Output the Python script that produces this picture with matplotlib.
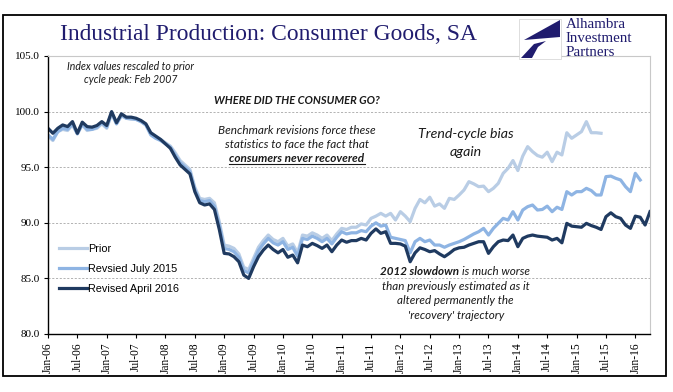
import numpy as np
import matplotlib.pyplot as plt
from matplotlib.patches import Rectangle, Polygon
from matplotlib.lines import Line2D

W, H = 673, 392

# monthly index values, Jan-06 onward
prior = [
    97.8, 97.4, 98.2, 98.4, 98.3, 98.8, 98.0, 98.8, 98.3, 98.4, 98.5, 98.9,
    98.5, 99.8, 98.9, 99.6, 99.4, 99.3, 99.3, 99.1, 98.8, 98.0, 97.7, 97.5,
    97.2, 96.9, 96.3, 95.6, 95.2, 94.8, 93.2, 92.2, 92.1, 92.2, 91.8, 90.1,
    88.0, 87.9, 87.7, 87.2, 86.0, 85.8, 86.8, 87.8, 88.4, 88.9, 88.5, 88.3,
    88.6, 87.9, 88.1, 87.3, 88.9, 88.8, 89.1, 88.9, 88.6, 88.9, 88.4, 89.0,
    89.5, 89.4, 89.6, 89.6, 89.9, 89.8, 90.4, 90.6, 90.85, 90.6, 90.85, 90.25,
    91.0, 90.6, 90.1, 91.3, 92.1, 91.8, 92.3, 91.5, 91.7, 91.3, 92.2, 92.1,
    92.5, 92.95, 93.7, 93.5, 93.25, 93.3, 92.8, 93.1, 93.55, 94.45, 94.9, 95.6,
    94.7, 96.0, 96.85, 96.4, 96.05, 95.9, 96.35, 95.5, 96.35, 96.1, 98.1, 97.6,
    97.9, 98.2, 99.1, 98.1, 98.1, 98.05,
]
rev_jul15 = [
    97.9, 97.5, 98.2, 98.5, 98.4, 98.9, 98.0, 98.9, 98.4, 98.4, 98.6, 99.0,
    98.6, 99.9, 98.9, 99.7, 99.4, 99.4, 99.3, 99.1, 98.8, 97.9, 97.6, 97.4,
    97.1, 96.8, 96.1, 95.4, 95.0, 94.6, 93.0, 92.0, 91.9, 92.0, 91.5, 89.8,
    87.7, 87.6, 87.4, 86.9, 85.7, 85.5, 86.5, 87.5, 88.1, 88.6, 88.2, 88.0,
    88.3, 87.6, 87.8, 87.0, 88.6, 88.5, 88.8, 88.6, 88.3, 88.6, 88.1, 88.7,
    89.2, 89.0, 89.1, 89.1, 89.3, 89.2, 89.7, 90.0, 89.7, 89.8, 88.7, 88.6,
    88.5, 88.4, 87.3, 88.3, 88.6, 88.3, 88.45, 88.0, 88.0, 87.8, 88.0, 88.15,
    88.3, 88.5, 88.75, 89.0, 89.2, 89.5, 88.9, 89.5, 89.95, 90.4, 90.25, 91.0,
    90.25, 91.15, 91.45, 91.6, 91.15, 91.2, 91.5, 91.0, 91.4, 91.2, 92.8, 92.5,
    92.8, 92.8, 93.1, 92.9, 92.5, 92.5, 94.15, 94.2, 94.0, 93.85, 93.25, 92.8,
    94.45, 93.85,
]
rev_apr16 = [
    98.5, 98.05, 98.5, 98.8, 98.65, 99.1, 98.05, 99.05, 98.65, 98.6, 98.75, 99.1,
    98.75, 100.0, 99.0, 99.8, 99.5, 99.5, 99.4, 99.2, 98.9, 98.1, 97.8, 97.5,
    97.1, 96.7, 95.9, 95.2, 94.8, 94.4, 92.8, 91.8, 91.6, 91.7, 91.2, 89.4,
    87.25, 87.2, 86.95, 86.5, 85.3, 85.0, 86.05, 86.95, 87.55, 88.0, 87.6, 87.3,
    87.6, 86.9, 87.1, 86.4, 88.0, 87.85, 88.15, 87.95, 87.7, 88.0, 87.4, 88.0,
    88.45, 88.25, 88.4, 88.4, 88.6, 88.45, 89.05, 89.45, 89.05, 89.2, 88.15, 88.15,
    88.1, 87.9, 86.5, 87.3, 87.75, 87.6, 87.4, 87.5, 87.2, 86.95, 87.25, 87.6,
    87.75, 87.8, 88.0, 88.15, 88.3, 88.3, 87.25, 87.85, 88.3, 88.45, 88.4, 88.9,
    87.85, 88.6, 88.8, 88.9, 88.8, 88.75, 88.7, 88.45, 88.6, 88.2, 89.95, 89.7,
    89.65, 89.6, 89.95, 89.75, 89.6, 89.4, 90.55, 90.9, 90.55, 90.4, 89.8, 89.5,
    90.6, 90.5, 89.8, 91.0,
]

tick_labels = ["Jan-06", "Jul-06", "Jan-07", "Jul-07", "Jan-08", "Jul-08",
               "Jan-09", "Jul-09", "Jan-10", "Jul-10", "Jan-11", "Jul-11",
               "Jan-12", "Jul-12", "Jan-13", "Jul-13", "Jan-14", "Jul-14",
               "Jan-15", "Jul-15", "Jan-16"]
y_ticks = [80, 85, 90, 95, 100, 105]

NAVY = "#201c6e"
C_PRIOR = "#b9cde5"
C_JUL = "#8eb4e3"
C_APR = "#1f3a60"
SERIF = "Liberation Serif"
NOTE = "Lato"


def fx(x):
    return x / W


def fy(y):
    return 1 - y / H


fig = plt.figure(figsize=(W / 100, H / 100), dpi=100)
fig.patch.set_facecolor("white")

# outer frame
fig.add_artist(Rectangle((fx(3), fy(376)), fx(663), (376 - 15) / H,
                         transform=fig.transFigure, fill=False, lw=1.3, ec="black"))

ax = fig.add_axes([fx(48), fy(334), 602 / W, 278 / H])

for vals, col, lab in [(prior, C_PRIOR, "Prior"),
                       (rev_jul15, C_JUL, "Revsied July 2015"),
                       (rev_apr16, C_APR, "Revised April 2016")]:
    ax.plot(np.arange(len(vals)), vals, color=col, lw=2.3, label=lab,
            solid_joinstyle="round")

ax.set_xlim(0, 123)
ax.set_ylim(80, 105)
ax.set_yticks(y_ticks)
ax.set_yticklabels([f"{v:.1f}" for v in y_ticks], fontfamily=SERIF, fontsize=8)
ax.set_xticks(np.arange(len(tick_labels)) * 6)
ax.set_xticklabels(tick_labels, rotation=90, fontfamily=SERIF, fontsize=8.3)
ax.tick_params(axis="both", direction="out", length=3, width=0.8, colors="black", pad=3.2)

for v in [85, 90, 95, 100]:
    ax.axhline(v, color="#a6a6a6", lw=0.6, ls=(0, (2.5, 2)), zorder=0)

for s in ["left", "bottom"]:
    ax.spines[s].set_color("black")
    ax.spines[s].set_linewidth(1.0)
for s in ["top", "right"]:
    ax.spines[s].set_color("#c8c8c8")
    ax.spines[s].set_linewidth(0.8)

leg = ax.legend(loc="upper left", bbox_to_anchor=(fx(59), fy(244)),
                bbox_transform=fig.transFigure, frameon=False,
                prop={"family": "Liberation Sans", "size": 7.8},
                handlelength=2.6, handletextpad=0.12, labelspacing=0.9,
                borderpad=0, borderaxespad=0)

# title
fig.text(fx(269), fy(35), "Industrial Production: Consumer Goods, SA",
         ha="center", va="center", fontfamily=SERIF, fontsize=16.9, color=NAVY)

# logo
fig.add_artist(Rectangle((fx(519), fy(59)), 42 / W, 40 / H, transform=fig.transFigure,
                         fc="white", ec="#d0d0d0", lw=0.5, zorder=5))
fig.add_artist(Polygon([(fx(560), fy(20)), (fx(560), fy(37)), (fx(524), fy(40))],
                       closed=True, transform=fig.transFigure, fc=NAVY, ec="none", zorder=6))
fig.add_artist(Polygon([(fx(521), fy(58)), (fx(534), fy(44)), (fx(546), fy(41)),
                        (fx(538), fy(47)), (fx(532), fy(58))],
                       closed=True, transform=fig.transFigure, fc=NAVY, ec="none", zorder=6))
for i, word in enumerate(["Alhambra", "Investment", "Partners"]):
    fig.text(fx(566), fy(25 + i * 14), word, ha="left", va="center",
             fontfamily=SERIF, fontsize=10.8, color=NAVY, zorder=6)

# notes
note = dict(fontfamily=NOTE, style="italic", color="#1a1a1a", ha="center", va="center")
fig.text(fx(130.5), fy(66.5), "Index values rescaled to prior", fontsize=7.6, **note)
fig.text(fx(130.5), fy(79.5), "cycle peak: Feb 2007", fontsize=7.6, **note)
fig.text(fx(297), fy(100), "WHERE DID THE CONSUMER GO?", fontsize=8.0,
         fontweight="bold", **note)
fig.text(fx(297), fy(130.5), "Benchmark revisions force these", fontsize=8.5, **note)
fig.text(fx(297), fy(144.5), "statistics to face the fact that", fontsize=8.5, **note)
t_under = fig.text(fx(297), fy(159), "consumers never recovered", fontsize=8.5,
                   fontweight="bold", **note)
fig.text(fx(466), fy(134), "Trend-cycle bias", fontsize=10.2, **note)
fig.text(fx(466), fy(152.5), "again", fontsize=10.2, **note)

left = dict(fontfamily=NOTE, style="italic", color="#1a1a1a", ha="left", va="center")
t_b = fig.text(fx(380), fy(271.5), "2012 slowdown", fontsize=8.4, fontweight="bold", **left)
fig.text(fx(456), fy(286), "than previously estimated as it", fontsize=8.4, **note)
fig.text(fx(455), fy(301), "altered permanently the", fontsize=8.4, **note)
fig.text(fx(456), fy(315.5), "'recovery' trajectory", fontsize=8.4, **note)

fig.canvas.draw()
r = fig.canvas.get_renderer()
bb = t_b.get_window_extent(r)
fig.text(bb.x1 / W + 2.5 / W, fy(271.5), "is much worse", fontsize=8.4, **left)
bb = t_under.get_window_extent(r)
fig.add_artist(Line2D([bb.x0 / W, bb.x1 / W], [(bb.y0 + 0.5) / H] * 2,
                      transform=fig.transFigure, color="#1a1a1a", lw=0.8))

fig.savefig("out.png", dpi=100)
